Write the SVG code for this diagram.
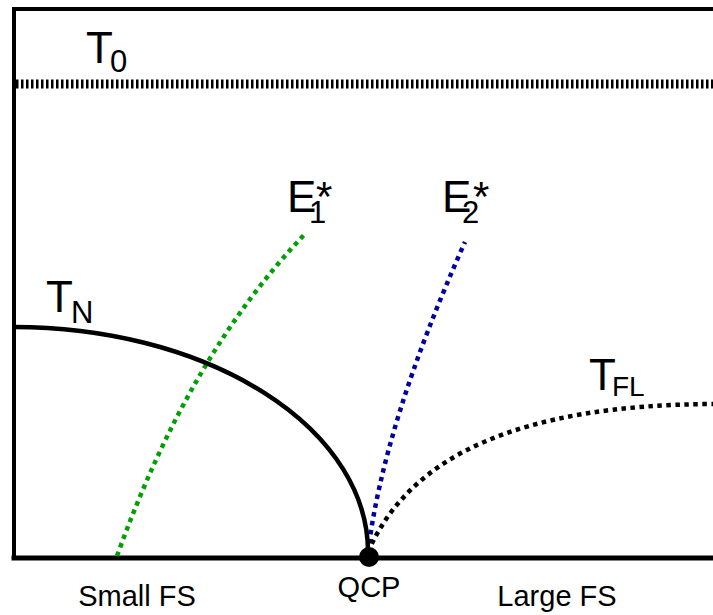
<svg xmlns="http://www.w3.org/2000/svg" width="713" height="615" viewBox="0 0 713 615">
<style>
.lbl{font-family:"Liberation Sans",Arial,sans-serif;fill:#000}
.big{font-size:44px}
.sub{font-size:31px}
.ast{font-size:42px}
.ax{font-size:29px}
.frame{stroke:#000;fill:none;stroke-linecap:square}
.dot{fill:none;stroke-width:4.5;stroke-dasharray:4.5 4.5}
</style>
<rect width="713" height="615" fill="#fff"/>
<g id="axes">
<path class="frame" d="M14,9 H715 M14,9 V558" stroke-width="4"/>
<path class="frame" d="M14,558 H715" stroke-width="5"/>
</g>
<g id="connectors">
<path id="T0-line" d="M16,84 H713" stroke="#000" stroke-width="9" fill="none" stroke-dasharray="2.5 2.5"/>
<path id="E1-line" class="dot" stroke="#00a000" d="M117,556 Q189,355 305,234"/>
<path id="E2-line" class="dot" stroke="#0000a0" d="M368,552 Q384,423 465,242"/>
<path id="TFL-line" class="dot" stroke="#000" d="M368,552 C410,455 520,405 713,404"/>
<path id="TN-line" d="M14,327 A354,225 0 0 1 368,552" stroke="#000" stroke-width="4.5" fill="none"/>
</g>
<g id="T0"><text class="lbl big" x="86" y="63">T</text><text class="lbl sub" x="110" y="72">0</text></g>
<g id="E1"><text class="lbl big" x="287" y="212">E</text><text class="lbl sub" x="309" y="223">1</text><text class="lbl ast" x="316" y="211">*</text></g>
<g id="E2"><text class="lbl big" x="442" y="212">E</text><text class="lbl sub" x="462" y="223">2</text><text class="lbl ast" x="473" y="211">*</text></g>
<g id="TN"><text class="lbl big" x="46" y="312">T</text><text class="lbl sub" x="71" y="323">N</text></g>
<g id="TFL"><text class="lbl big" x="589" y="390">T</text><text class="lbl" font-size="28" x="612" y="396">FL</text></g>
<g id="QCP"><circle cx="369" cy="557" r="10" fill="#000"/><text class="lbl ax" x="369" y="597" text-anchor="middle">QCP</text></g>
<g id="small"><text class="lbl ax" x="137" y="606" text-anchor="middle">Small FS</text></g>
<g id="large"><text class="lbl ax" x="557" y="606" text-anchor="middle">Large FS</text></g>
</svg>
